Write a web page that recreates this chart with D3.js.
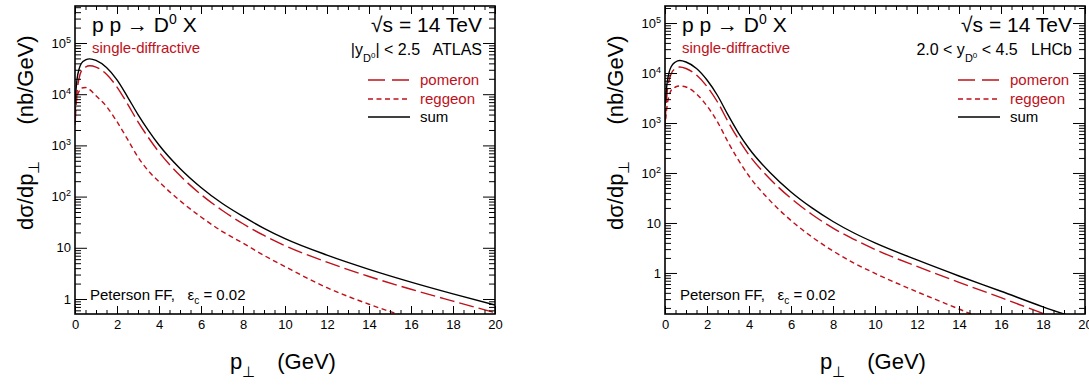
<!DOCTYPE html>
<html>
<head>
<meta charset="utf-8">
<script src="https://cdn.jsdelivr.net/npm/d3@7"></script>
<style>
body{margin:0;background:#fff;}
svg{font-family:"Liberation Sans",Arial,Helvetica,sans-serif;}
text{white-space:pre;}
</style>
</head>
<body>
<svg width="1089" height="385"></svg>
<script>
// pT grid (GeV) and dsigma/dpT (nb/GeV)
var pt = [0,0.1,0.2,0.3,0.5,0.7,1,1.5,2,2.5,3,3.5,4,5,6,7,8,9,10,12,14,16,18,20];

var atlasPomeron = [2500,11200,20900,28200,33900,35900,33900,24500,13800,6460,2880,1410,740,257,110,54,29.5,17.4,11,5.25,2.75,1.55,0.91,0.54];
var atlasReggeon = [4500,8900,11500,13200,13500,12300,9300,5750,2900,1320,590,316,195,83,40,21,12.3,7.1,4.3,1.66,0.79,0.42,0.25,0.16];
var atlasSum     = [7100,20000,31600,39800,46800,49000,45700,33100,19000,8900,4000,1950,1020,355,151,74,41,24,15.1,7.2,3.8,2.14,1.26,0.76];

var lhcbPomeron = [1000,4000,7240,9800,12300,13200,12300,9100,5370,2630,1070,470,229,76,31,14.8,7.9,4.7,2.95,1.35,0.65,0.32,0.155,0.079];
var lhcbReggeon = [800,2240,3550,4570,5250,5500,5250,3800,2190,1050,417,180,87,28,11.2,5.25,2.75,1.58,0.98,0.42,0.19,0.085,0.04,0.019];
var lhcbSum     = [2240,6300,10500,13500,16600,17800,16600,12300,7240,3550,1450,630,309,102,41.7,20,10.7,6.3,4.0,1.82,0.87,0.43,0.21,0.11];

var xTickValues = d3.range(0, 21, 2);
var xMinorValues = d3.range(0, 20.01, 0.5);
var yTickValues = [1, 10, 100, 1e3, 1e4, 1e5];
var legendNames = ["pomeron", "reggeon", "sum"];

var red = "#c0101a";
var styles = {
  pomeron: {color: red, dash: "15,5"},
  reggeon: {color: red, dash: "5,3.5"},
  sum: {color: "#000", dash: null}
};

var panels = [
  {id: "atlas", left: 75, right: 495, top: 6, bottom: 314, yDomain: [0.509, 5.28e5],
   series: {pomeron: atlasPomeron, reggeon: atlasReggeon, sum: atlasSum}},
  {id: "lhcb", left: 665, right: 1085, top: 6, bottom: 314, yDomain: [0.151, 2.19e5],
   series: {pomeron: lhcbPomeron, reggeon: lhcbReggeon, sum: lhcbSum}}
];

var svg = d3.select("svg");

function yMinor(dom) {
  var out = [];
  for (var e = -2; e <= 6; e++) {
    for (var k = 2; k <= 9; k++) {
      var v = k * Math.pow(10, e);
      if (v > dom[0] && v < dom[1]) out.push(v);
    }
  }
  return out;
}

function powLabel(sel) {
  sel.each(function(d) {
    var t = d3.select(this).text(null);
    var n = Math.round(Math.log10(d));
    if (n <= 1) { t.text(d === 1 ? "1" : "10"); return; }
    t.append("tspan").text("10");
    t.append("tspan").attr("dy", "-5").attr("font-size", 9).text(n);
  });
}

panels.forEach(function(p) {
  var x = d3.scaleLinear().domain([0, 20]).range([p.left, p.right]);
  var y = d3.scaleLog().domain(p.yDomain).range([p.bottom, p.top]);
  var g = svg.append("g");

  g.append("clipPath").attr("id", "clip-" + p.id)
    .append("rect").attr("x", p.left).attr("y", p.top)
    .attr("width", p.right - p.left).attr("height", p.bottom - p.top);

  // curves
  var line = d3.line()
    .x(function(d, i) { return x(pt[i]); })
    .y(function(d) { return y(d); })
    .curve(d3.curveMonotoneX);

  ["reggeon", "pomeron", "sum"].forEach(function(name) {
    g.append("path")
      .attr("clip-path", "url(#clip-" + p.id + ")")
      .attr("d", line(p.series[name]))
      .attr("fill", "none")
      .attr("stroke", styles[name].color)
      .attr("stroke-width", 1.4)
      .attr("stroke-dasharray", styles[name].dash);
  });

  // x axis ticks (bottom with labels, top without)
  g.append("g").attr("transform", "translate(0," + p.bottom + ")")
    .call(d3.axisBottom(x).tickValues(xTickValues).tickSize(-8).tickPadding(6).tickFormat(d3.format("d")));
  g.append("g").attr("transform", "translate(0," + p.bottom + ")")
    .call(d3.axisBottom(x).tickValues(xMinorValues).tickSize(-4).tickFormat(""));
  g.append("g").attr("transform", "translate(0," + p.top + ")")
    .call(d3.axisTop(x).tickValues(xTickValues).tickSize(-8).tickFormat(""));
  g.append("g").attr("transform", "translate(0," + p.top + ")")
    .call(d3.axisTop(x).tickValues(xMinorValues).tickSize(-4).tickFormat(""));

  // y axis ticks (left with labels, right without)
  var ly = g.append("g").attr("transform", "translate(" + p.left + ",0)")
    .call(d3.axisLeft(y).tickValues(yTickValues).tickSize(-12).tickPadding(4));
  ly.selectAll("text").call(powLabel);
  g.append("g").attr("transform", "translate(" + p.left + ",0)")
    .call(d3.axisLeft(y).tickValues(yMinor(p.yDomain)).tickSize(-6).tickFormat(""));
  g.append("g").attr("transform", "translate(" + p.right + ",0)")
    .call(d3.axisRight(y).tickValues(yTickValues).tickSize(-12).tickFormat(""));
  g.append("g").attr("transform", "translate(" + p.right + ",0)")
    .call(d3.axisRight(y).tickValues(yMinor(p.yDomain)).tickSize(-6).tickFormat(""));

  g.selectAll(".domain").remove();
  g.selectAll(".tick line").attr("stroke", "#000").attr("stroke-width", 1);
  g.selectAll(".tick text").attr("font-size", 13).attr("fill", "#000")
    .attr("font-family", "Liberation Sans, Arial, sans-serif");

  g.append("rect").attr("x", p.left).attr("y", p.top)
    .attr("width", p.right - p.left).attr("height", p.bottom - p.top)
    .attr("fill", "none").attr("stroke", "#000").attr("stroke-width", 1.6);

  // axis titles
  var xt = g.append("text").attr("x", p.left + 155).attr("y", 369).attr("font-size", 22);
  xt.append("tspan").text("p");
  xt.append("tspan").attr("dy", 8).attr("font-size", 15).text("\u22a5");
  xt.append("tspan").attr("dy", -8).attr("dx", 22).text("(GeV)");

  var yt = g.append("text").attr("transform", "translate(" + (p.left - 42) + ",230) rotate(-90)")
    .attr("font-size", 22);
  yt.append("tspan").text("d\u03c3/dp");
  yt.append("tspan").attr("dy", 6).attr("font-size", 15).text("\u22a5");
  yt.append("tspan").attr("dy", -6).attr("dx", 36).text("(nb/GeV)");

  // annotations
  var t1 = g.append("text").attr("x", p.left + 17).attr("y", 32).attr("font-size", 21);
  t1.append("tspan").text("p p \u2192 D");
  t1.append("tspan").attr("dy", -8).attr("font-size", 14).text("0");
  t1.append("tspan").attr("dy", 8).text(" X");

  g.append("text").attr("x", p.right - 13).attr("y", 32).attr("font-size", 21)
    .attr("text-anchor", "end").text("\u221as = 14 TeV");

  g.append("text").attr("x", p.left + 17).attr("y", 53).attr("font-size", 15)
    .attr("fill", red).text("single-diffractive");

  var kin = g.append("text").attr("x", p.right - 13).attr("y", 55).attr("font-size", 16)
    .attr("text-anchor", "end");
  if (p.id === "atlas") {
    kin.append("tspan").text("|y");
  } else {
    kin.append("tspan").text("2.0 < y");
  }
  kin.append("tspan").attr("dy", 7).attr("font-size", 11).text("D");
  kin.append("tspan").attr("dy", -4).attr("font-size", 8).text("0");
  kin.append("tspan").attr("dy", -3).text(p.id === "atlas" ? "| < 2.5   ATLAS" : " < 4.5   LHCb");

  var pf = g.append("text").attr("x", p.left + 15).attr("y", 300).attr("font-size", 15);
  pf.append("tspan").text("Peterson FF,   \u03b5");
  pf.append("tspan").attr("dy", 4).attr("font-size", 10).text("c");
  pf.append("tspan").attr("dy", -4).text(" = 0.02");

  // legend
  legendNames.forEach(function(name, i) {
    var ly0 = [80, 99, 117][i];
    g.append("line").attr("x1", p.right - 127).attr("x2", p.right - 85)
      .attr("y1", ly0).attr("y2", ly0)
      .attr("stroke", styles[name].color).attr("stroke-width", 1.4)
      .attr("stroke-dasharray", name === "pomeron" ? "17,7" : styles[name].dash);
    g.append("text").attr("x", p.right - 75).attr("y", ly0 + 5).attr("font-size", 15)
      .attr("fill", name === "sum" ? "#000" : red).text(name);
  });
});
</script>
</body>
</html>
